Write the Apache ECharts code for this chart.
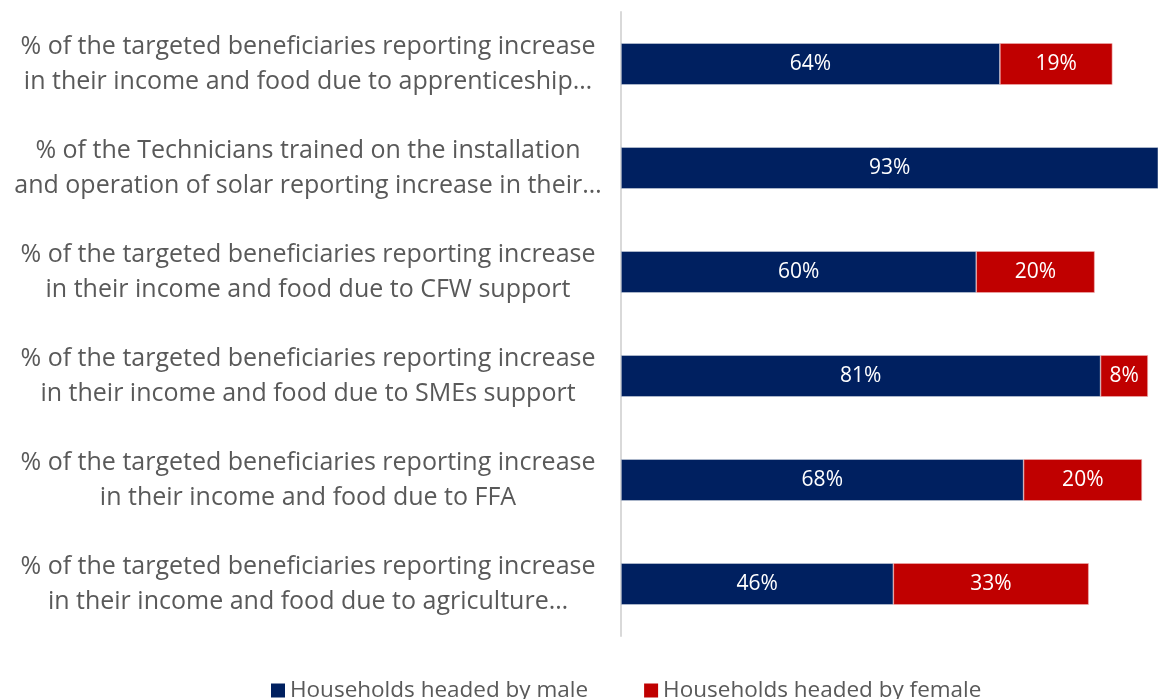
<!DOCTYPE html>
<html><head><meta charset="utf-8">
<script src="https://cdn.jsdelivr.net/npm/echarts@6/dist/echarts.min.js"></script>
<style>html,body{margin:0;padding:0;background:#fff}#c{width:1158px;height:699px}</style>
</head><body><div id="c"></div>
<script>
const categories = [
  "% of the targeted beneficiaries reporting increase\nin their income and food due to apprenticeship…",
  "% of the Technicians trained on the installation\nand operation of solar reporting increase in their…",
  "% of the targeted beneficiaries reporting increase\nin their income and food due to CFW support",
  "% of the targeted beneficiaries reporting increase\nin their income and food due to SMEs support",
  "% of the targeted beneficiaries reporting increase\nin their income and food due to FFA",
  "% of the targeted beneficiaries reporting increase\nin their income and food due to agriculture…"
];
const maleValues = [64, 93, 60, 81, 68, 46];
const femaleValues = [19, null, 20, 8, 20, 33];
const seriesNames = ["Households headed by male", "Households headed by female"];

const chart = echarts.init(document.getElementById('c'), null, {renderer: 'canvas'});
const font = "'Open Sans', 'Noto Sans', sans-serif";
chart.setOption({
  animation: false,
  textStyle: {fontFamily: font},
  grid: {left: 621, top: 12, right: 0, height: 624},
  legend: {
    bottom: -8, left: 266, itemWidth: 14, itemHeight: 14, itemGap: 56,
    icon: 'rect',
    itemStyle: {borderWidth: 0},
    textStyle: {fontSize: 22.5, color: '#595959', fontFamily: font},
    data: seriesNames
  },
  xAxis: {type: 'value', min: 0, max: 90.7, show: false},
  yAxis: {
    type: 'category', inverse: true, data: categories,
    axisLine: {show: true, lineStyle: {color: '#d9d9d9', width: 2}},
    axisTick: {show: false},
    axisLabel: {
      align: 'center', margin: 313, fontSize: 25, lineHeight: 35,
      color: '#595959', fontFamily: font
    }
  },
  series: [
    {
      name: seriesNames[0], type: 'bar', stack: 's', data: maleValues,
      barWidth: '40%', clip: true,
      itemStyle: {color: '#002060', borderColor: '#c8d0dc', borderWidth: 0.6},
      label: {show: true, position: 'inside', color: '#fff', fontSize: 21, fontFamily: font, formatter: p => p.value + '%'}
    },
    {
      name: seriesNames[1], type: 'bar', stack: 's', data: femaleValues,
      barWidth: '40%', clip: true,
      itemStyle: {color: '#c00000', borderColor: '#f0b0b0', borderWidth: 0.6},
      label: {show: true, position: 'inside', color: '#fff', fontSize: 21, fontFamily: font, formatter: p => p.value == null ? '' : p.value + '%'}
    }
  ]
});
</script></body></html>
